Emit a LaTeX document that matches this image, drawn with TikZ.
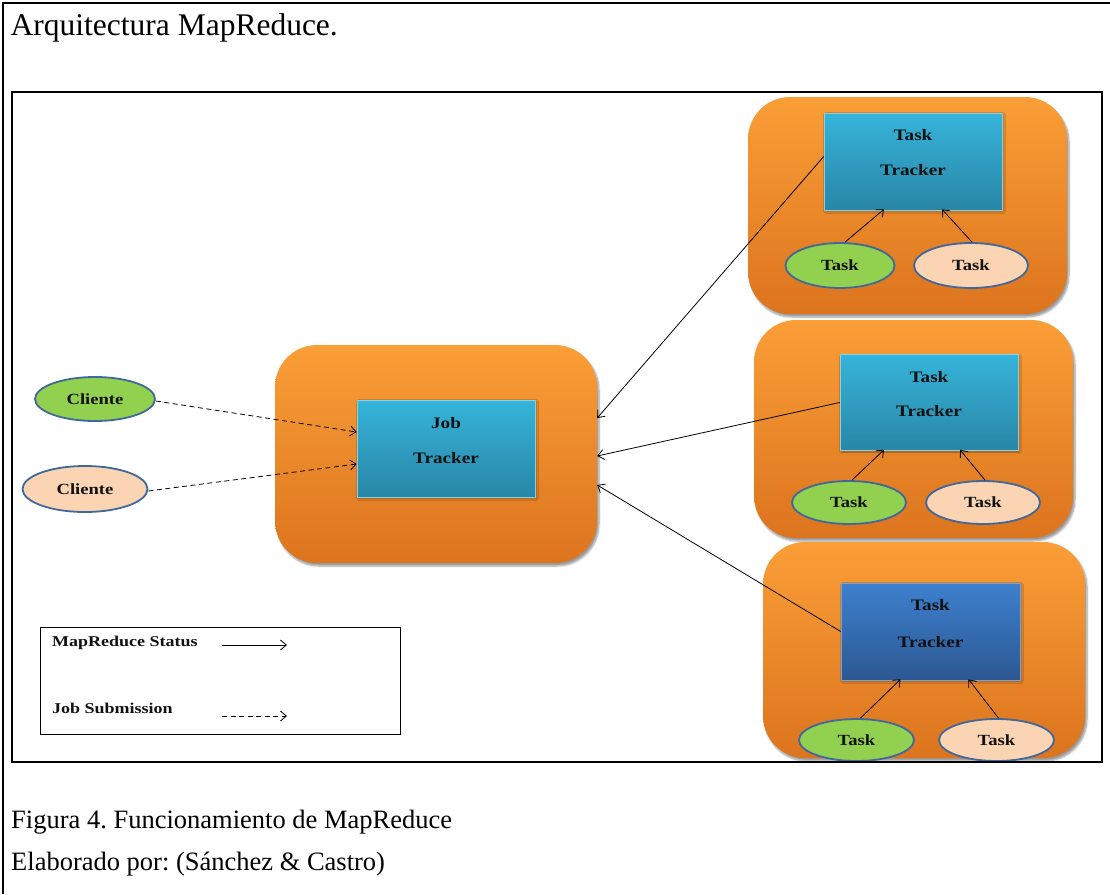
\documentclass[tikz,border=0pt]{standalone}
\usepackage{fontspec}
\setmainfont{Liberation Serif}
\newfontfamily\lblfont[FakeStretch=1.2]{Liberation Serif}
\usetikzlibrary{shapes.geometric,shadows.blur,calc,arrows.meta}
\frenchspacing

\definecolor{orTop}{HTML}{FA9E37}
\definecolor{orBot}{HTML}{DC741E}
\definecolor{cyTop}{HTML}{36B4DA}
\definecolor{cyBot}{HTML}{2986A6}
\definecolor{blTop}{HTML}{3D80CE}
\definecolor{blBot}{HTML}{2C5893}
\definecolor{grFill}{HTML}{92D050}
\definecolor{pcFill}{HTML}{FBD4B4}
\definecolor{elEdge}{HTML}{41689A}
\definecolor{ink}{HTML}{111111}

\begin{document}
\begin{tikzpicture}[x=1pt,y=-1pt,
  container/.style={rounded corners=42pt, top color=orTop, bottom color=orBot,
    draw=none, inner sep=0pt,
    blur shadow={shadow xshift=2pt, shadow yshift=-3pt, shadow blur steps=6, shadow opacity=40}},
  trk/.style={inner sep=0pt, top color=cyTop, bottom color=cyBot,
    draw=cyTop!60!white, line width=0.6pt,
    blur shadow={shadow xshift=1.5pt, shadow yshift=-1.5pt, shadow blur steps=4, shadow opacity=35}},
  trkblue/.style={trk, top color=blTop, bottom color=blBot, draw=blTop!70!white},
  bubble/.style={ellipse, draw=elEdge, line width=1.8pt, inner sep=0pt,
    text=ink, font=\lblfont\bfseries\fontsize{15.5}{18}\selectfont},
  greenbub/.style={bubble, fill=grFill},
  peachbub/.style={bubble, fill=pcFill},
  lbl/.style={inner sep=0pt, text=ink, font=\lblfont\bfseries\fontsize{16}{19}\selectfont},
  legtext/.style={inner sep=0pt, anchor=base west, text=ink, font=\lblfont\bfseries\fontsize{15}{18}\selectfont},
  status/.style={line width=0.8pt, -{Straight Barb[length=6pt,width=10pt]}},
  submit/.style={status, dash pattern=on 5pt off 3.5pt},
  doctext/.style={inner sep=0pt, anchor=base west, text=black}
]
\useasboundingbox (0,0) rectangle (1110,894);

% page frame (left and top edges)
\draw[line width=2pt] (3,894) -- (3,3) -- (1110,3);

% headings
\node[doctext, font=\fontsize{31.5}{36}\selectfont] (title) at (10.5,35) {Arquitectura MapReduce.};
\node[doctext, font=\fontsize{26.5}{30}\selectfont] (cap1) at (11,828) {Figura 4. Funcionamiento de MapReduce};
\node[doctext, font=\fontsize{26.5}{30}\selectfont] (cap2) at (11,870) {Elaborado por: (Sánchez \& Castro)};

% orange containers
\node[container, minimum width=322pt, minimum height=218pt] (jc) at (436,454) {};
\node[container, minimum width=319pt, minimum height=217pt] (c1) at (907.5,205.5) {};
\node[container, minimum width=319pt, minimum height=218pt] (c2) at (913.5,429) {};
\node[container, minimum width=322pt, minimum height=216pt] (c3) at (924,650) {};

% trackers
\node[trk, minimum width=178pt, minimum height=97pt] (job) at (446,448.5) {};
\node[lbl] (jobA) at ($(job.north)+(0,23)$) {Job};
\node[lbl] (jobB) at ($(job.north)+(0,58)$) {Tracker};

\node[trk, minimum width=178pt, minimum height=97pt] (tt1) at (913,161.5) {};
\node[lbl] (tt1A) at ($(tt1.north)+(0,22)$) {Task};
\node[lbl] (tt1B) at ($(tt1.north)+(0,57)$) {Tracker};

\node[trk, minimum width=178pt, minimum height=96pt] (tt2) at (929,402.5) {};
\node[lbl] (tt2A) at ($(tt2.north)+(0,23)$) {Task};
\node[lbl] (tt2B) at ($(tt2.north)+(0,57)$) {Tracker};

\node[trkblue, minimum width=179pt, minimum height=97pt] (tt3) at (930.5,631.5) {};
\node[lbl] (tt3A) at ($(tt3.north)+(0,22)$) {Task};
\node[lbl] (tt3B) at ($(tt3.north)+(0,59)$) {Tracker};

% clients
\node[greenbub, minimum width=120pt, minimum height=44pt] (cl1) at (95,399) {Cliente};
\node[peachbub, minimum width=125pt, minimum height=46pt] (cl2) at (85,489) {Cliente};

% tasks
\node[greenbub, minimum width=109pt, minimum height=45pt] (g1) at (840,265.5) {Task};
\node[peachbub, minimum width=114pt, minimum height=45pt] (p1) at (971,265.5) {Task};
\node[greenbub, minimum width=114pt, minimum height=43pt] (g2) at (849,502.5) {Task};
\node[peachbub, minimum width=114pt, minimum height=43pt] (p2) at (983,502.5) {Task};
\node[greenbub, minimum width=115pt, minimum height=42pt] (g3) at (856.5,740) {Task};
\node[peachbub, minimum width=115pt, minimum height=42pt] (p3) at (996.5,740) {Task};

% task -> task tracker
\draw[status] ($(g1.north)+(5,0)$) -- ($(tt1.south)+(-29,-1)$);
\draw[status] ($(p1.north)+(1,0)$) -- ($(tt1.south)+(29,-1)$);
\draw[status] ($(g2.north)+(3,0)$) -- ($(tt2.south)+(-45,-1)$);
\draw[status] ($(p2.north)+(2,0)$) -- ($(tt2.south)+(31,-1)$);
\draw[status] ($(g3.north)+(4,0)$) -- ($(tt3.south)+(-30,-1)$);
\draw[status] ($(p3.north)+(2,0)$) -- ($(tt3.south)+(38,-1)$);

% task trackers -> job tracker
\draw[status] ($(tt1.west)+(0,-5)$) -- ($(jc.east)+(0,-36)$);
\draw[status] (tt2.west) -- ($(jc.east)+(0,2)$);
\draw[status] (tt3.west) -- ($(jc.east)+(0,31)$);

% clients -> job tracker
\draw[submit] ($(cl1.east)+(0,2)$) -- ($(job.west)+(0,-16.5)$);
\draw[submit] ($(cl2.east)+(0,2)$) -- ($(job.west)+(0,15.5)$);

% legend
\node[draw, line width=0.8pt, anchor=north west, minimum width=360pt, minimum height=107pt, inner sep=0pt] (legend) at (40,627) {};
\node[legtext] (legA) at (52,646) {MapReduce Status};
\node[legtext] (legB) at (52,713) {Job Submission};
\coordinate (sA0) at (222,645);
\coordinate (sA1) at (287,645);
\coordinate (sB0) at (222,716);
\coordinate (sB1) at (287,716);
\draw[status] (sA0) -- (sA1);
\draw[submit] (sB0) -- (sB1);

% diagram frame
\draw[line width=2.5pt] (12,92) rectangle (1102,762);
\end{tikzpicture}
\end{document}
